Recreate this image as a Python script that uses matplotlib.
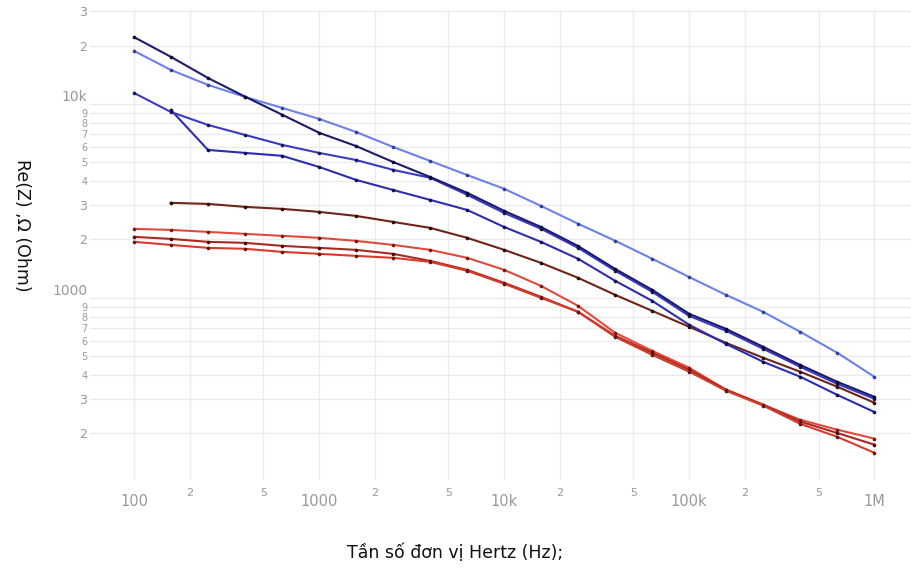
import numpy as np
import matplotlib
matplotlib.use("Agg")
import matplotlib.pyplot as plt
from matplotlib.ticker import FixedLocator, NullLocator

# frequency points, 5 per decade
freq = [100, 158, 251, 398, 631, 1000, 1580, 2510, 3980, 6310, 10000,
        15800, 25100, 39800, 63100, 100000, 158000, 251000, 398000, 631000, 1000000]

nan = np.nan
# Re(Z) in Ohm
navy = [22100, 17500, 13600, 10900, 8800, 7100, 6070, 5020, 4200, 3480, 2810,
        2320, 1850, 1410, 1100, 827, 692, 559, 451, 369, 309]
light_blue = [18760, 14970, 12530, 10870, 9540, 8370, 7170, 6000, 5080, 4300, 3650,
              2980, 2410, 1970, 1590, 1280, 1036, 847, 668, 521, 392]
mid_blue = [11390, 9090, 7790, 6920, 6150, 5590, 5140, 4570, 4160, 3400, 2740,
            2270, 1810, 1380, 1074, 807, 676, 546, 441, 360, 302]
kink_blue = [nan, 9310, 5790, 5590, 5400, 4730, 4060, 3600, 3200, 2840, 2320,
             1944, 1590, 1224, 965, 726, 579, 468, 392, 316, 258]
brown = [nan, 3090, 3050, 2945, 2876, 2775, 2646, 2464, 2295, 2039, 1768,
         1515, 1268, 1036, 857, 709, 586, 491, 416, 348, 288]
red_top = [2268, 2241, 2188, 2137, 2088, 2039, 1967, 1875, 1768, 1608, 1394,
           1153, 909, 660, 533, 436, 336, 281, 235, 209, 188]
red_dark = [2063, 2014, 1944, 1921, 1854, 1810, 1768, 1686, 1551, 1394, 1195,
            1012, 847, 637, 521, 426, 336, 281, 230, 201, 175]
red_low = [1944, 1875, 1810, 1790, 1726, 1686, 1646, 1608, 1533, 1378, 1181,
           1000, 847, 629, 508, 416, 332, 278, 224, 192, 159]

series = [
    (red_top, "#e04a3c", "#7a1a12"),
    (red_dark, "#a82a22", "#4a0a08"),
    (red_low, "#d83a2c", "#6a1410"),
    (brown, "#6e2418", "#2a0a06"),
    (kink_blue, "#2c2cb4", "#10104a"),
    (mid_blue, "#3a3ac8", "#14145a"),
    (light_blue, "#6c80ec", "#3040a0"),
    (navy, "#1c1c6a", "#0a0a2a"),
]

fig = plt.figure(figsize=(9.12, 5.72), dpi=100)
ax = fig.add_axes([90 / 912, 1 - 480 / 572, 1 - 90 / 912, 470 / 572])
ax.set_xscale("log")
ax.set_yscale("log")

for ys, col, mcol in series:
    ax.plot(freq, ys, color=col, linewidth=1.5, marker="o", markersize=1.6,
            markerfacecolor=mcol, markeredgecolor=mcol, zorder=3)

ax.set_xlim(57.8, 1.6e6)
ax.set_ylim(115, 30500)

xticks = [100, 200, 500, 1000, 2000, 5000, 10000, 20000, 50000,
          100000, 200000, 500000, 1000000]
xlabels = ["100", "2", "5", "1000", "2", "5", "10k", "2", "5", "100k", "2", "5", "1M"]
yticks = [200, 300, 400, 500, 600, 700, 800, 900, 1000,
          2000, 3000, 4000, 5000, 6000, 7000, 8000, 9000, 10000, 20000, 30000]
ylabels = ["2", "3", "4", "5", "6", "7", "8", "9", "1000",
           "2", "3", "4", "5", "6", "7", "8", "9", "10k", "2", "3"]

ax.xaxis.set_major_locator(FixedLocator(xticks))
ax.xaxis.set_minor_locator(NullLocator())
ax.yaxis.set_major_locator(FixedLocator(yticks))
ax.yaxis.set_minor_locator(NullLocator())
ax.set_xticklabels(xlabels)
ax.set_yticklabels(ylabels)

ax.tick_params(axis="both", length=0, colors="#999999")
ax.tick_params(axis="x", pad=10)
ax.tick_params(axis="y", pad=2)
for lab in ax.get_xticklabels():
    if lab.get_text() in ("2", "5"):
        lab.set_fontsize(8)
        lab.set_y(0.012)
    else:
        lab.set_fontsize(10.5)
for lab in ax.get_yticklabels():
    t = lab.get_text()
    if t in ("10k", "1000"):
        lab.set_fontsize(10)
        lab.set_verticalalignment("bottom")
    elif t in ("2", "3"):
        lab.set_fontsize(9)
    else:
        lab.set_fontsize(7)

ax.grid(True, color="#ebebeb", linewidth=1)
ax.set_axisbelow(True)
for s in ax.spines.values():
    s.set_visible(False)

fig.text(22 / 912, 1 - 225 / 572, "Re(Z) ,\u03a9 (Ohm)", rotation=270,
         ha="center", va="center", fontsize=12.5, color="#111111")
fig.text(455 / 912, 1 - 553 / 572, "T\u1ea7n s\u1ed1 \u0111\u01a1n v\u1ecb Hertz (Hz);",
         ha="center", va="center", fontsize=12.5, color="#111111")

fig.savefig("out.png", dpi=100, facecolor="white")
